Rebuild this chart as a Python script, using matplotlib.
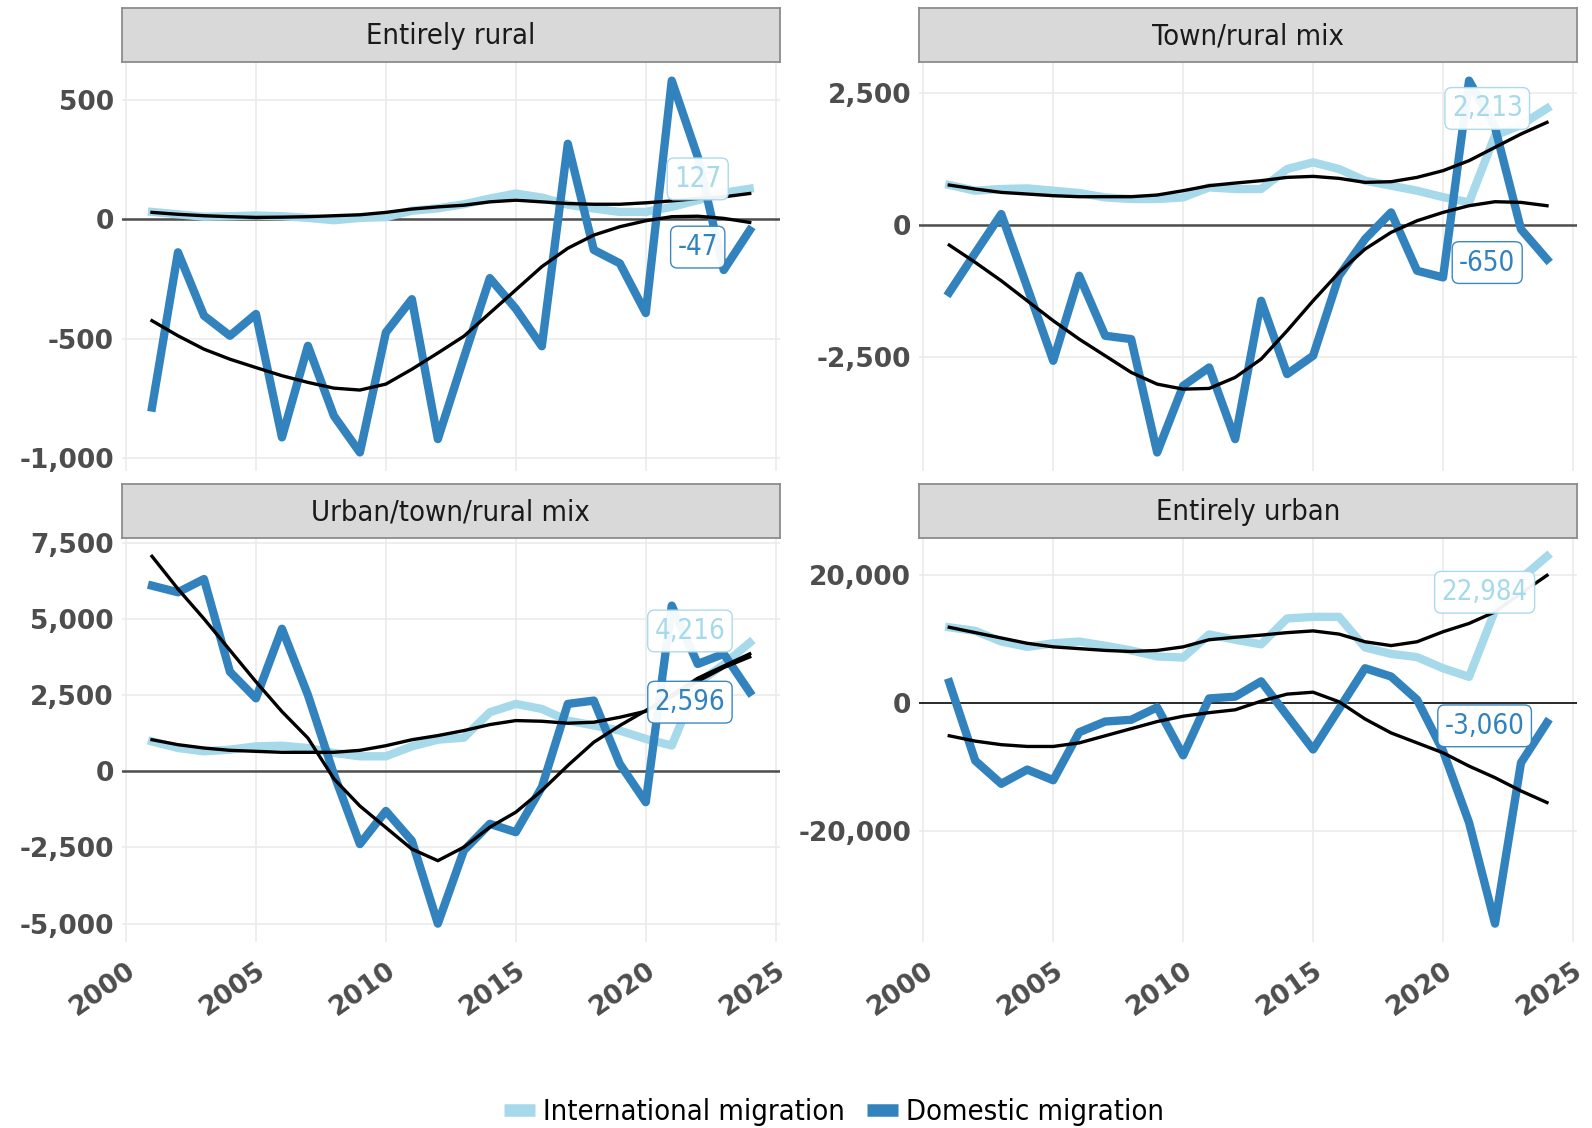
"""Net migration by settlement type, 2001-2024: four facets, international vs domestic."""
import matplotlib
matplotlib.use('Agg')
import matplotlib.pyplot as plt
import matplotlib.font_manager as fm
from matplotlib.lines import Line2D
from matplotlib.ticker import MultipleLocator, StrMethodFormatter

# narrow face for strips / legend / labels if the condensed DejaVu is installed
_cond = fm.findfont(fm.FontProperties(family='DejaVu Sans', stretch='condensed'))
NARROW = 'Condensed' in _cond
STRETCH = 'condensed' if NARROW else 'normal'
K = 1.1 if NARROW else 1.0

plt.rcParams.update({
    'font.family': 'DejaVu Sans',
    'axes.unicode_minus': False,
})

YEARS = list(range(2001, 2025))
PANELS = ['Entirely rural', 'Town/rural mix', 'Urban/town/rural mix', 'Entirely urban']
SERIES_NAMES = ['International migration', 'Domestic migration']
Y_STEPS = [500, 2500, 2500, 20000]

rural_intl = [30, 20, 10, 12, 15, 12, 5, -5, 5, 8, 35, 45, 62, 86, 107, 90, 60, 44, 30, 30, 51, 79, 110, 127]
rural_dom = [-788, -139, -404, -488, -397, -913, -530, -823, -976, -474, -335, -920,
             -580, -247, -375, -532, 315, -129, -185, -393, 579, 260, -213, -47]
rural_intl_trend = [28, 20, 14, 10, 7, 8, 10, 14, 18, 28, 42, 51, 58, 72, 79, 72, 65, 62, 62, 68, 76, 86, 93, 107]
rural_dom_trend = [-425, -488, -544, -586, -621, -655, -683, -707, -715, -690, -628, -560,
                   -490, -393, -296, -199, -122, -67, -32, -7, 10, 12, 3, -14]

town_intl = [760, 652, 684, 696, 652, 608, 525, 494, 494, 525, 715, 684,
             684, 1063, 1190, 1063, 842, 747, 652, 530, 430, 1700, 1900, 2213]
town_dom = [-1278, -530, 209, -1180, -2576, -962, -2101, -2165, -4316, -3051, -2703, -4063,
            -1437, -2829, -2481, -962, -266, 240, -867, -994, 2741, 1850, -80, -650]
town_intl_trend = [759, 684, 620, 589, 557, 538, 538, 538, 570, 652, 747, 797,
                   842, 905, 924, 886, 810, 823, 905, 1032, 1222, 1475, 1728, 1949]
town_dom_trend = [-380, -709, -1057, -1437, -1816, -2165, -2481, -2797, -3019, -3114, -3101, -2892,
                  -2544, -2006, -1437, -899, -456, -139, 82, 240, 367, 443, 430, 367]

mixed_intl = [978, 761, 652, 707, 815, 837, 761, 598, 489, 489, 815, 1033,
              1100, 1934, 2208, 2044, 1661, 1500, 1333, 1060, 842, 2900, 3500, 4216]
mixed_dom = [6087, 5870, 6304, 3261, 2391, 4674, 2500, -100, -2391, -1304, -2283, -5000,
             -2601, -1727, -2000, -525, 2208, 2317, 240, -1016, 5432, 3519, 3850, 2596]
mixed_intl_trend = [1033, 870, 761, 685, 652, 620, 620, 620, 685, 837, 1033, 1169,
                    1333, 1530, 1661, 1639, 1574, 1607, 1770, 1967, 2450, 2950, 3400, 3750]
mixed_dom_trend = [7050, 5978, 5000, 3967, 2935, 1957, 1087, -250, -1141, -1848, -2554, -2935,
                   -2492, -1836, -1344, -634, 186, 951, 1497, 1989, 2500, 3050, 3450, 3850]

urban_intl = [11866, 11309, 9638, 8802, 9359, 9638, 8969, 8245, 7298, 7131, 10752, 9916,
              9200, 13250, 13500, 13500, 8700, 7700, 7200, 5450, 4100, 14500, 19500, 22984]
urban_dom = [3231, -9025, -12646, -10418, -12089, -4568, -2897, -2618, -669, -8189, 724, 1003,
             3400, -1950, -7273, -900, 5455, 4156, 519, -7500, -18701, -34545, -9351, -3060]
urban_intl_trend = [11866, 11031, 10195, 9359, 8802, 8524, 8245, 8078, 8245, 8802, 9916, 10306,
                    10641, 11031, 11300, 10800, 9600, 9000, 9600, 11169, 12468, 14286, 17200, 20000]
urban_dom_trend = [-5125, -5961, -6518, -6797, -6797, -6240, -5125, -4011, -2897, -2061, -1504, -1058,
                   300, 1400, 1700, 200, -2500, -4675, -6234, -7792, -9870, -11688, -13766, -15584]

DATA = [
    (rural_intl, rural_dom, rural_intl_trend, rural_dom_trend),
    (town_intl, town_dom, town_intl_trend, town_dom_trend),
    (mixed_intl, mixed_dom, mixed_intl_trend, mixed_dom_trend),
    (urban_intl, urban_dom, urban_intl_trend, urban_dom_trend),
]

# end-label placement: x in years, y nudge as a share of the panel's y range
LABEL_X = [2022.0, 2021.7, 2021.7, 2021.6]
LABEL_NUDGE = [(0.024, -0.041), (0.0, -0.008), (0.029, -0.025), (-0.089, -0.008)]
ZERO_STYLE = [('#4d4d4d', 1.8), ('#4d4d4d', 1.8), ('#4d4d4d', 1.8), ('#1a1a1a', 1.3)]

LIGHT = '#a6d9ea'
DARK = '#3182bd'
TICK_GREY = '#4d4d4d'

fig = plt.figure(figsize=(15.92, 11.28), dpi=100)

LEFTS = [0.0767, 0.5775]
BOTTOMS = [0.5824, 0.1649]
HEIGHTS = [0.3626, 0.3582]
W = 0.413
STRIP_H = 0.0479

for i, name in enumerate(PANELS):
    row, col = divmod(i, 2)
    intl, dom, intl_tr, dom_tr = DATA[i]
    ax = fig.add_axes([LEFTS[col], BOTTOMS[row], W, HEIGHTS[row]])

    ax.axhline(0, color=ZERO_STYLE[i][0], lw=ZERO_STYLE[i][1], zorder=2)
    ax.plot(YEARS, intl, color=LIGHT, lw=6.0, solid_joinstyle='round', zorder=3)
    ax.plot(YEARS, dom, color=DARK, lw=6.0, solid_joinstyle='round', zorder=4)
    ax.plot(YEARS, intl_tr, color='black', lw=2.4, solid_joinstyle='round', zorder=5)
    ax.plot(YEARS, dom_tr, color='black', lw=2.4, solid_joinstyle='round', zorder=5)

    ax.xaxis.set_major_locator(MultipleLocator(5))
    ax.yaxis.set_major_locator(MultipleLocator(Y_STEPS[i]))
    ax.yaxis.set_major_formatter(StrMethodFormatter('{x:,.0f}'))
    ax.grid(color='#ebebeb', lw=1.2)
    ax.set_axisbelow(True)
    for s in ax.spines.values():
        s.set_visible(False)
    ax.tick_params(length=0, labelsize=19, labelcolor=TICK_GREY, pad=6)
    for t in ax.get_yticklabels():
        t.set_fontweight('bold')
    if row == 0:
        ax.tick_params(labelbottom=False)
    else:
        for t in ax.get_xticklabels():
            t.set_fontweight('bold')
            t.set_rotation(35)
            t.set_ha('right')
            t.set_va('top')
            t.set_rotation_mode('anchor')
        ax.tick_params(axis='x', pad=11)

    ylo, yhi = ax.get_ylim()
    for vals, col_, nudge in ((intl, LIGHT, LABEL_NUDGE[i][0]), (dom, DARK, LABEL_NUDGE[i][1])):
        ax.text(LABEL_X[i], vals[-1] + nudge * (yhi - ylo), f'{vals[-1]:,}',
                ha='center', va='center', color=col_, fontsize=18 * K, fontstretch=STRETCH,
                zorder=6,
                bbox=dict(boxstyle='round,pad=0.25,rounding_size=0.25', fc='white',
                          ec=col_, lw=1.0, alpha=0.95))

    sax = fig.add_axes([LEFTS[col], BOTTOMS[row] + HEIGHTS[row], W, STRIP_H])
    sax.set_facecolor('#d9d9d9')
    sax.set_xticks([])
    sax.set_yticks([])
    for s in sax.spines.values():
        s.set_color('#8c8c8c')
        s.set_linewidth(1.3)
    sax.text(0.5, 0.48, name, ha='center', va='center', fontsize=19 * K,
             fontstretch=STRETCH, color='#1a1a1a', transform=sax.transAxes)

handles = [Line2D([0], [0], color=LIGHT, lw=9, solid_capstyle='butt'),
           Line2D([0], [0], color=DARK, lw=9, solid_capstyle='butt')]
leg = fig.legend(handles, SERIES_NAMES, loc='center', bbox_to_anchor=(0.524, 0.0144),
                 ncol=2, frameon=False, handlelength=1.05, handletextpad=0.3,
                 columnspacing=0.75, prop={'size': 19 * K, 'stretch': STRETCH})

fig.savefig('out.png', dpi=100)
